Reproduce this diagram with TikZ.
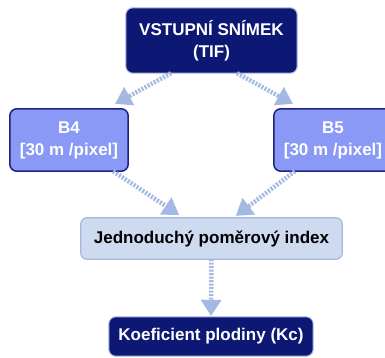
\documentclass[tikz,border=0pt]{standalone}
\usepackage{fontspec}
\setmainfont{Liberation Sans}
\usetikzlibrary{arrows.meta,backgrounds}

\definecolor{navy}{HTML}{0D1875}
\definecolor{navyedge}{HTML}{AEBCE0}
\definecolor{bandfill}{HTML}{8999F5}
\definecolor{bandedge}{HTML}{1C2383}
\definecolor{idxfill}{HTML}{CDDAF0}
\definecolor{idxedge}{HTML}{A5B9E1}
\definecolor{flow}{HTML}{A3B8E3}

\tikzset{
  boxtext/.style={inner sep=0pt, align=center, font=\fontsize{17}{22}\selectfont\bfseries},
  flowarrow/.style={draw=flow, line width=4.5pt, dash pattern=on 2pt off 1.5pt,
    -{Triangle[width=21pt,length=16pt,line width=0pt,fill=flow]}},
}

% card outline: top-left corner square, the other three rounded
\newcommand\cardshape[4]{%
  \draw[fill=#2, draw=#3, line width=#4, rounded corners=7pt]
    (#1.north) -- (#1.north east) -- (#1.south east) -- (#1.south west)
    -- (#1.north west) [sharp corners] -- (#1.north) -- cycle;}

\begin{document}
\begin{tikzpicture}[x=1pt,y=-1pt]
\useasboundingbox (0,0) rectangle (385,358);

\node[boxtext, text=white, minimum width=171pt, minimum height=65pt] (src) at (211.5,40.5)
  {VSTUPNÍ SNÍMEK\\(TIF)};
\node[boxtext, text=white, minimum width=118pt, minimum height=62pt] (b4) at (69,140)
  {B4\\{[}30 m /pixel{]}};
\node[boxtext, text=white, minimum width=118pt, minimum height=62pt] (b5) at (333,140)
  {B5\\{[}30 m /pixel{]}};
\node[boxtext, text=black, minimum width=261pt, minimum height=41pt] (idx) at (211.5,238.5)
  {Jednoduchý poměrový index};
\node[boxtext, text=white, minimum width=204pt, minimum height=39pt] (kc) at (211,336.5)
  {Koeficient plodiny (Kc)};

\begin{scope}[on background layer]
  \cardshape{src}{navy}{navyedge}{1pt}
  \cardshape{b4}{bandfill}{bandedge}{1.5pt}
  \cardshape{b5}{bandfill}{bandedge}{1.5pt}
  \draw[fill=idxfill, draw=idxedge, line width=1.2pt, rounded corners=6pt]
    (idx.north west) rectangle (idx.south east);
  \cardshape{kc}{navy}{navyedge}{1pt}
\end{scope}

\draw[flowarrow] ([xshift=-40.5pt]src.south) -- ([xshift=-13pt,yshift=5pt]b4.north east);
\draw[flowarrow] ([xshift=25.5pt]src.south) -- ([xshift=19pt,yshift=5pt]b5.north west);
\draw[flowarrow] ([xshift=-15pt]b4.south east) -- ([xshift=-32.5pt,yshift=3pt]idx.north);
\draw[flowarrow] ([xshift=21pt]b5.south west) -- ([xshift=24.5pt,yshift=2pt]idx.north);
\draw[flowarrow, shorten >=1pt] (idx.south) -- (kc.north);
\end{tikzpicture}
\end{document}
